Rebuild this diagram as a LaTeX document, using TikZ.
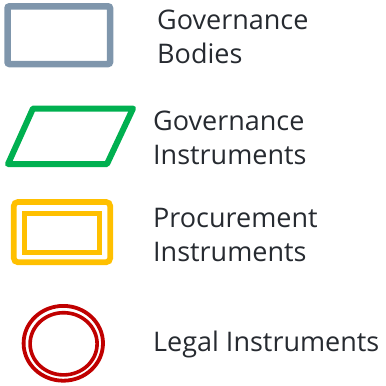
\documentclass[tikz,border=0pt]{standalone}
\usepackage{fontspec}
\setmainfont{Open Sans}
\definecolor{bodyc}{HTML}{7F96AC}
\definecolor{govc}{HTML}{00B050}
\definecolor{procc}{HTML}{FFC000}
\definecolor{legalc}{HTML}{C00000}
\definecolor{txtc}{HTML}{262A30}
\begin{document}
\begin{tikzpicture}[x=1pt,y=-1pt,
  lbl/.style={anchor=base west,inner sep=0pt,align=left,text=txtc,
    font=\fontsize{27}{34}\selectfont}]
\useasboundingbox (0,0) rectangle (386,386);
% Governance bodies
\draw[bodyc,line width=6.5pt,rounded corners=2pt] (7.5,6.3) rectangle (110,64);
\node[lbl] (gbt) at (157,63.5) {Governance\\Bodies};
% Governance instruments
\draw[govc,line width=6pt,line join=round] (33,108.5) -- (133,108.5) -- (107,164) -- (8,164) -- cycle;
\node[lbl] (git) at (153,164) {Governance\\Instruments};
% Procurement instruments
\draw[procc,line width=5.7pt,rounded corners=4pt] (13.8,202) rectangle (110.2,262.2);
\draw[procc,line width=5.3pt] (24.8,213.4) rectangle (99.4,252.3);
\node[lbl] (pit) at (153,261) {Procurement\\Instruments};
% Legal instruments
\draw[legalc,line width=3.8pt] (63.3,343.3) ellipse [x radius=39.7,y radius=37.4];
\draw[legalc,line width=3.6pt] (63.6,343.8) ellipse [x radius=33.5,y radius=31.1];
\node[lbl] (lit) at (153,351) {Legal Instruments};
\end{tikzpicture}
\end{document}
